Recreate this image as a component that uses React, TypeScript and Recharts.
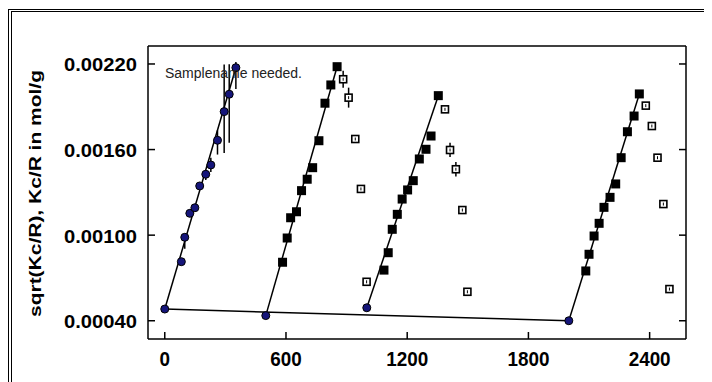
import React from 'react';
import { ScatterChart, Scatter, XAxis, YAxis, ErrorBar } from 'recharts';

// first point of each run (blue circles)
const startX = [0, 500, 1000, 2000];
const startY = [0.000482, 0.000436, 0.000491, 0.0004];

// run 1: blue circles with error bars
const g1X = [82, 99, 124, 149, 173, 203, 228, 261, 294, 319, 352];
const g1Y = [0.000814, 0.000985, 0.001153, 0.001192, 0.001345, 0.001427, 0.001492, 0.001665, 0.001866, 0.001988, 0.002174];
const g1Lo = [0.00002, 0.00008, 0.00002, 0.00002, 0.00002, 0.00004, 0.00005, 0.0001, 0.00029, 0.00034, 0.00015];
const g1Hi = [0.00002, 0.00002, 0.00002, 0.00002, 0.00002, 0.00003, 0.00005, 0.00007, 0.00033, 0.00021, 0.00004];

// runs 2-4: filled squares (used in fit)
const g2X = [583, 606, 623, 652, 677, 705, 732, 763, 793, 822, 853];
const g2Y = [0.00081, 0.00098, 0.001122, 0.001164, 0.001312, 0.001392, 0.001473, 0.001662, 0.001925, 0.002053, 0.002181];
const g3X = [1085, 1106, 1126, 1151, 1175, 1202, 1230, 1260, 1293, 1318, 1354];
const g3Y = [0.000755, 0.000877, 0.001041, 0.001146, 0.001253, 0.001317, 0.001382, 0.001534, 0.001602, 0.001695, 0.001978];
const g4X = [2084, 2100, 2125, 2150, 2174, 2204, 2232, 2259, 2290, 2323, 2349];
const g4Y = [0.000749, 0.000866, 0.000994, 0.001083, 0.001195, 0.001265, 0.001359, 0.001543, 0.001725, 0.001835, 0.00199];

// runs 2-4: open squares (excluded)
const g2oX = [883, 910, 943, 971, 999];
const g2oY = [0.002093, 0.001964, 0.001674, 0.001324, 0.000673];
const g2oErr = [0.00006, 0.00007, 0.00001, 0.00001, 0.00001];
const g3oX = [1387, 1412, 1441, 1473, 1498];
const g3oY = [0.001882, 0.001597, 0.001462, 0.001176, 0.000603];
const g3oErr = [0.00001, 0.00005, 0.00005, 0.00001, 0.00001];
const g4oX = [2381, 2411, 2439, 2468, 2498];
const g4oY = [0.001908, 0.001765, 0.001543, 0.001218, 0.000622];
const g4oErr = [0.00001, 0.00001, 0.00001, 0.00001, 0.00001];

const xTicks = [0, 600, 1200, 1800, 2400];
const yTicks = [0.0004, 0.001, 0.0016, 0.0022];
const xDomain = [-83, 2580];
const yDomain = [0.000272, 0.002326];

const yLabel = 'sqrt(Kc/R), Kc/R in mol/g';
const note = 'Samplename needed.';

const font = 'Arial, "Liberation Sans", sans-serif';

const pts = (xs: number[], ys: number[], errs?: any[]) =>
    xs.map((x, i) => ({ x, y: ys[i], err: errs ? errs[i] : 0 }));

const g1 = pts(g1X, g1Y, g1Lo.map((lo, i) => [lo, g1Hi[i]]));
const starts = pts(startX, startY);
const filled = [...pts(g2X, g2Y), ...pts(g3X, g3Y), ...pts(g4X, g4Y)];
const open = [...pts(g2oX, g2oY, g2oErr), ...pts(g3oX, g3oY, g3oErr), ...pts(g4oX, g4oY, g4oErr)];

const fitLines = [
    [starts[0], { x: g1X[g1X.length - 1], y: g1Y[g1Y.length - 1] }],
    [starts[1], { x: g2X[g2X.length - 1], y: g2Y[g2Y.length - 1] }],
    [starts[2], { x: g3X[g3X.length - 1], y: g3Y[g3Y.length - 1] }],
    [starts[3], { x: g4X[g4X.length - 1], y: g4Y[g4Y.length - 1] }],
];
const baseLine = [starts[0], starts[3]];

const Circle = (p: any) => (
    <circle cx={p.cx} cy={p.cy} r={4} fill="#15157a" stroke="#000" strokeWidth={1} />
);
const FilledSquare = (p: any) => (
    <rect x={p.cx - 4.5} y={p.cy - 4.5} width={9} height={9} fill="#000" />
);
const OpenSquare = (p: any) => (
    <g>
        <rect x={p.cx - 3.5} y={p.cy - 3.5} width={7} height={7} fill="#fff" stroke="#000" strokeWidth={1.6} />
        <line x1={p.cx} x2={p.cx} y1={p.cy - 1.5} y2={p.cy + 1.5} stroke="#000" strokeWidth={1} />
    </g>
);
const Nothing = () => <g />;

const BottomTick = ({ x, y, payload }: any) => {
    const s = String(payload.value);
    return (
        <g>
            <line x1={x} x2={x} y1={y} y2={y - 7} stroke="#000" strokeWidth={1.5} />
            <text x={x} y={y + 19} textAnchor="middle" dominantBaseline="central"
                fontFamily={font} fontWeight="bold" fontSize={21} fill="#000"
                textLength={s.length * 10.5} lengthAdjust="spacingAndGlyphs">
                {s}
            </text>
        </g>
    );
};
const TopTick = ({ x, y }: any) => (
    <line x1={x} x2={x} y1={y} y2={y + 7} stroke="#000" strokeWidth={1.5} />
);
const LeftTick = ({ x, y, payload }: any) => (
    <g>
        <line x1={x} x2={x + 7} y1={y} y2={y} stroke="#000" strokeWidth={1.5} />
        <text x={x - 11} y={y + 1} textAnchor="end" dominantBaseline="central"
            fontFamily={font} fontWeight="bold" fontSize={19} fill="#000"
            textLength={73} lengthAdjust="spacingAndGlyphs">
            {payload.value.toFixed(5)}
        </text>
    </g>
);
const RightTick = ({ x, y }: any) => (
    <line x1={x} x2={x - 7} y1={y} y2={y} stroke="#000" strokeWidth={1.5} />
);

const YTitle = ({ viewBox }: any) => {
    const cx = viewBox.x + 27;
    const cy = viewBox.y + viewBox.height / 2 + 1;
    return (
        <text x={cx} y={cy} transform={`rotate(-90 ${cx} ${cy})`} textAnchor="middle"
            dominantBaseline="central" fontFamily={font} fontWeight="bold" fontSize={17}
            fill="#000" textLength={247} lengthAdjust="spacingAndGlyphs">
            {yLabel}
        </text>
    );
};

const axisLine = { stroke: '#000', strokeWidth: 1.5 };

export default function App() {
    return (
        <div style={{ position: 'relative', width: 704, height: 374, overflow: 'hidden', background: '#fff' }}>
            <div style={{
                position: 'absolute', left: 0, top: 1, width: 760, height: 420,
                borderLeft: '4px double #000', borderTop: '3px double #000', boxSizing: 'border-box'
            }} />
            <div style={{ position: 'absolute', left: 0, top: 0 }}>
                <ScatterChart width={704} height={374} margin={{ top: 37, right: 1, bottom: 8, left: 0 }}>
                    <XAxis type="number" dataKey="x" domain={xDomain} ticks={xTicks} allowDataOverflow
                        height={35} tickSize={0} tickMargin={0} tickLine={false} axisLine={axisLine}
                        tick={<BottomTick />} interval={0} />
                    <XAxis type="number" xAxisId="top" orientation="top" domain={xDomain} ticks={xTicks}
                        allowDataOverflow height={1} tickSize={0} tickMargin={0} tickLine={false}
                        axisLine={axisLine} tick={<TopTick />} interval={0} />
                    <YAxis type="number" dataKey="y" domain={yDomain} ticks={yTicks} allowDataOverflow
                        width={140} tickSize={0} tickMargin={0} tickLine={false} axisLine={axisLine}
                        tick={<LeftTick />} interval={0} label={<YTitle />} />
                    <YAxis type="number" yAxisId="right" orientation="right" domain={yDomain} ticks={yTicks}
                        allowDataOverflow width={25} tickSize={0} tickMargin={0} tickLine={false}
                        axisLine={axisLine} tick={<RightTick />} interval={0} />

                    <Scatter data={baseLine} line={{ stroke: '#000', strokeWidth: 1.5 }} shape={<Nothing />}
                        isAnimationActive={false} />
                    {fitLines.map((d, i) => (
                        <Scatter key={i} data={d} line={{ stroke: '#000', strokeWidth: 1.5 }}
                            shape={<Nothing />} isAnimationActive={false} />
                    ))}
                    <Scatter data={open} shape={<OpenSquare />} isAnimationActive={false}>
                        <ErrorBar dataKey="err" direction="y" width={0} stroke="#000" strokeWidth={1.5} />
                    </Scatter>
                    <Scatter data={filled} shape={<FilledSquare />} isAnimationActive={false} />
                    <Scatter data={g1} shape={<Circle />} isAnimationActive={false}>
                        <ErrorBar dataKey="err" direction="y" width={0} stroke="#000" strokeWidth={1.5} />
                    </Scatter>
                    <Scatter data={starts} shape={<Circle />} isAnimationActive={false} />
                </ScatterChart>
            </div>
            <div style={{
                position: 'absolute', left: 157, top: 58, fontFamily: font, fontSize: 14,
                lineHeight: '14px', color: '#222', whiteSpace: 'nowrap'
            }}>
                {note}
            </div>
        </div>
    );
}
